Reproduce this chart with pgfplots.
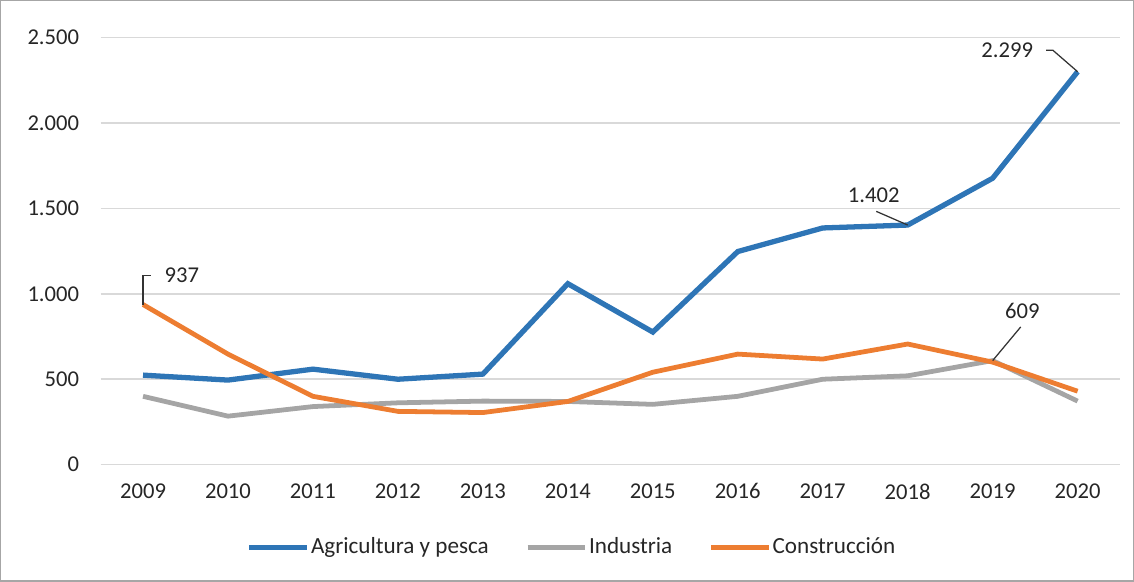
\documentclass[border=0pt]{standalone}
\usepackage{pgfplots}
\pgfplotsset{compat=1.18}
\usepackage{fontspec}
\setmainfont{Carlito}

\definecolor{cblue}{HTML}{2E75B6}
\definecolor{cgray}{HTML}{A5A5A5}
\definecolor{corange}{HTML}{ED7D31}
\definecolor{gridc}{HTML}{D9D9D9}
\definecolor{txt}{HTML}{262626}

\begin{document}
\begin{tikzpicture}
\begin{axis}[
    scale only axis,
    width=405.6pt, height=170pt,
    xmin=2008.5, xmax=2020.5,
    ymin=0, ymax=2500,
    xtick={2009,...,2020},
    ytick={0,500,1000,1500,2000,2500},
    ymajorgrids=true,
    grid style={gridc, line width=0.6pt},
    axis line style={draw=none},
    major tick length=0pt,
    /pgf/number format/assume math mode=true,
    yticklabel style={/pgf/number format/1000 sep={.}, font=\fontsize{9}{10}\selectfont, text=txt, xshift=-5pt},
    xticklabel style={/pgf/number format/1000 sep={}, font=\fontsize{9}{10}\selectfont, text=txt, yshift=-4pt},
    legend columns=3,
    legend style={at={(0.4620,-0.193)}, anchor=center, draw=none, fill=none,
        font=\fontsize{9.2}{10}\selectfont, text=txt,
        nodes={inner xsep=0.5pt},
        /tikz/every even column/.append style={column sep=14pt}},
    legend image code/.code={\draw[#1] (0pt,0pt) -- (23pt,0pt);},
    clip=false,
]
% frame around the chart area
\draw[gray!70, line width=0.5pt] (rel axis cs:-0.098,-0.272) rectangle (rel axis cs:1.013,1.086);

\addplot[cblue, line width=2.1pt] coordinates {
 (2009,524) (2010,495) (2011,559) (2012,500) (2013,530) (2014,1059)
 (2015,776) (2016,1247) (2017,1385) (2018,1402) (2019,1676) (2020,2299)};
\addplot[cgray, line width=1.9pt] coordinates {
 (2009,400) (2010,284) (2011,340) (2012,362) (2013,372) (2014,370)
 (2015,353) (2016,400) (2017,500) (2018,520) (2019,609) (2020,372)};
\addplot[corange, line width=1.9pt] coordinates {
 (2009,937) (2010,647) (2011,400) (2012,312) (2013,305) (2014,370)
 (2015,541) (2016,647) (2017,618) (2018,706) (2019,600) (2020,430)};
\legend{Agricultura y pesca, Industria, Construcción}

% data labels with leader lines
\draw[black!80, line width=0.5pt] (axis cs:2009,937) -- (axis cs:2009,1106) -- (axis cs:2009.09,1106);
\node[anchor=west, font=\fontsize{9}{10}\selectfont, text=txt] at (axis cs:2009.15,1106) {937};
\draw[black!80, line width=0.5pt] (axis cs:2019.63,2424) -- (axis cs:2019.71,2424) -- (axis cs:2020,2299);
\node[anchor=east, font=\fontsize{9}{10}\selectfont, text=txt] at (axis cs:2019.58,2424) {2.299};
\draw[black!80, line width=0.5pt] (axis cs:2017.63,1482) -- (axis cs:2018,1402);
\node[font=\fontsize{9}{10}\selectfont, text=txt] at (axis cs:2017.6,1576) {1.402};
\draw[black!80, line width=0.5pt] (axis cs:2019.33,806) -- (axis cs:2019,609);
\node[font=\fontsize{9}{10}\selectfont, text=txt] at (axis cs:2019.35,900) {609};
\end{axis}
\end{tikzpicture}
\end{document}
